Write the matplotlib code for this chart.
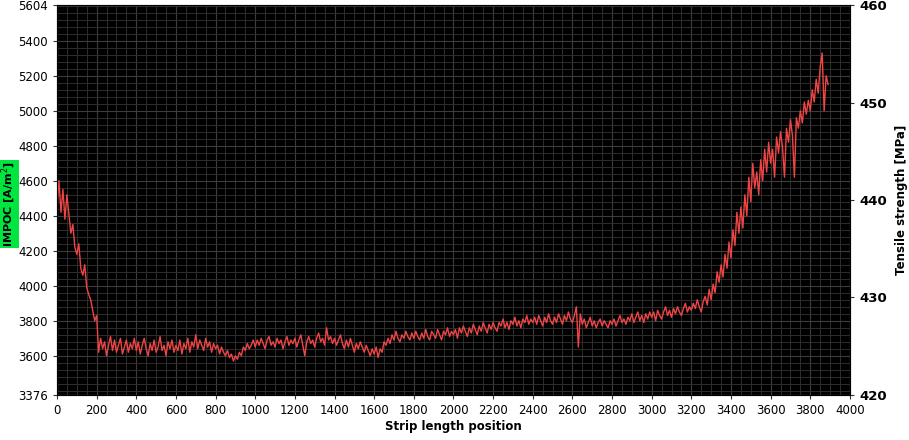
import numpy as np
import matplotlib.pyplot as plt
from matplotlib.ticker import MultipleLocator

# IMPOC signal along the strip, one value every 10 length units
step = 10
impoc = [
    4450, 4600, 4420, 4550, 4380, 4520, 4410, 4300, 4350, 4220, 4180, 4240, 4100, 4060, 4120, 3990, 3950, 3920, 3860, 3800,
    3830, 3620, 3700, 3640, 3680, 3600, 3660, 3710, 3630, 3690, 3620, 3660, 3700, 3610, 3650, 3690, 3620, 3670, 3640, 3700,
    3630, 3680, 3610, 3660, 3700, 3640, 3600, 3670, 3630, 3690, 3620, 3650, 3710, 3630, 3660, 3600, 3680, 3640, 3690, 3620,
    3660, 3630, 3690, 3610, 3670, 3640, 3700, 3620, 3680, 3650, 3720, 3640, 3690, 3660, 3630, 3700, 3650, 3680, 3620, 3670,
    3640, 3660, 3610, 3650, 3620, 3600, 3630, 3590, 3610, 3570, 3600, 3580, 3620, 3600, 3650, 3630, 3670, 3640, 3660, 3690,
    3650, 3690, 3660, 3700, 3670, 3640, 3690, 3710, 3660, 3680, 3650, 3700, 3670, 3690, 3640, 3680, 3710, 3660, 3690, 3670,
    3700, 3650, 3690, 3720, 3660, 3600, 3680, 3710, 3670, 3690, 3650, 3700, 3730, 3680, 3700, 3660, 3760, 3690, 3710, 3670,
    3700, 3660, 3690, 3720, 3670, 3640, 3690, 3650, 3700, 3660, 3620, 3670, 3640, 3680, 3650, 3620, 3660, 3630, 3600, 3640,
    3610, 3650, 3590, 3640, 3620, 3680, 3660, 3700, 3670, 3720, 3690, 3740, 3700, 3680, 3720, 3700, 3740, 3710, 3690, 3730,
    3700, 3740, 3710, 3690, 3730, 3700, 3750, 3710, 3690, 3740, 3720, 3700, 3750, 3720, 3690, 3740, 3720, 3760, 3710, 3740,
    3720, 3750, 3700, 3760, 3730, 3770, 3740, 3710, 3760, 3730, 3780, 3750, 3720, 3770, 3740, 3790, 3760, 3730, 3780, 3750,
    3790, 3760, 3740, 3790, 3770, 3810, 3760, 3790, 3750, 3800, 3780, 3820, 3770, 3800, 3760, 3810, 3790, 3830, 3780, 3810,
    3790, 3820, 3780, 3830, 3800, 3770, 3820, 3790, 3840, 3800, 3780, 3820, 3790, 3840, 3810, 3780, 3830, 3800, 3850, 3810,
    3790, 3830, 3880, 3650, 3840, 3780, 3810, 3760, 3790, 3820, 3770, 3800, 3760, 3790, 3810, 3770, 3800, 3780, 3760, 3800,
    3780, 3810, 3770, 3800, 3830, 3790, 3810, 3780, 3820, 3800, 3840, 3790, 3820, 3850, 3800, 3830, 3790, 3840, 3810, 3850,
    3820, 3850, 3800, 3860, 3830, 3810, 3850, 3880, 3830, 3860, 3820, 3870, 3840, 3880, 3850, 3830, 3870, 3900, 3850, 3880,
    3860, 3900, 3870, 3920, 3880, 3850, 3910, 3940, 3890, 3980, 3920, 4010, 3960, 4080, 4020, 4120, 4050, 4180, 4100, 4250,
    4160, 4320, 4230, 4420, 4300, 4450, 4330, 4520, 4400, 4620, 4480, 4700, 4560, 4650, 4520, 4720, 4600, 4780, 4650, 4820,
    4700, 4780, 4620, 4850, 4760, 4880, 4790, 4620, 4900, 4820, 4950, 4860, 4620, 4960, 4900, 5000, 4930, 5050, 4980, 5060,
    5000, 5120, 5050, 5180, 5100, 5250, 5330, 5000, 5200, 5150,
]
position = np.arange(len(impoc)) * step

left_ticks = [3376, 3600, 3800, 4000, 4200, 4400, 4600, 4800, 5000, 5200, 5400, 5604]
right_ticks = [420, 430, 440, 450, 460]
x_ticks = list(range(0, 4001, 200))

fig = plt.figure(figsize=(9.09, 4.40), dpi=100)
ax = fig.add_axes([0.0627, 0.1023, 0.8723, 0.8863])
ax.set_facecolor('black')

ax.plot(position, impoc, color='#f04545', linewidth=1.0, zorder=3)

ax.set_xlim(0, 4000)
ax.set_ylim(3376, 5604)
ax.set_xticks(x_ticks)
ax.set_yticks(left_ticks)
ax.xaxis.set_minor_locator(MultipleLocator(50))
ax.yaxis.set_minor_locator(MultipleLocator(40))
ax.grid(which='minor', color='#2e2e2e', linewidth=0.7, zorder=0)
ax.grid(which='major', color='#3c3c3c', linewidth=0.8, zorder=0)
ax.tick_params(which='minor', length=0)
ax.tick_params(which='major', labelsize=8.5, length=3, color='#333333')
for s in ax.spines.values():
    s.set_color('#888888')

ax.set_xlabel('Strip length position', fontsize=8.5, fontweight='bold', labelpad=2)
ax.set_ylabel('IMPOC [A/m$^2$]', fontsize=8, fontweight='bold',
              bbox=dict(facecolor='#00e640', edgecolor='none', pad=1))
ax.yaxis.set_label_coords(-0.049, 0.49)

ax2 = ax.twinx()
ax2.set_ylim(420, 460)
ax2.set_yticks(right_ticks)
ax2.tick_params(labelsize=9.5, length=3, color='#333333')
for lab in ax2.get_yticklabels():
    lab.set_fontweight('bold')
ax2.set_ylabel('Tensile strength [MPa]', fontsize=8.5, fontweight='bold', labelpad=6)

fig.savefig('out.png', dpi=100, facecolor='white')
